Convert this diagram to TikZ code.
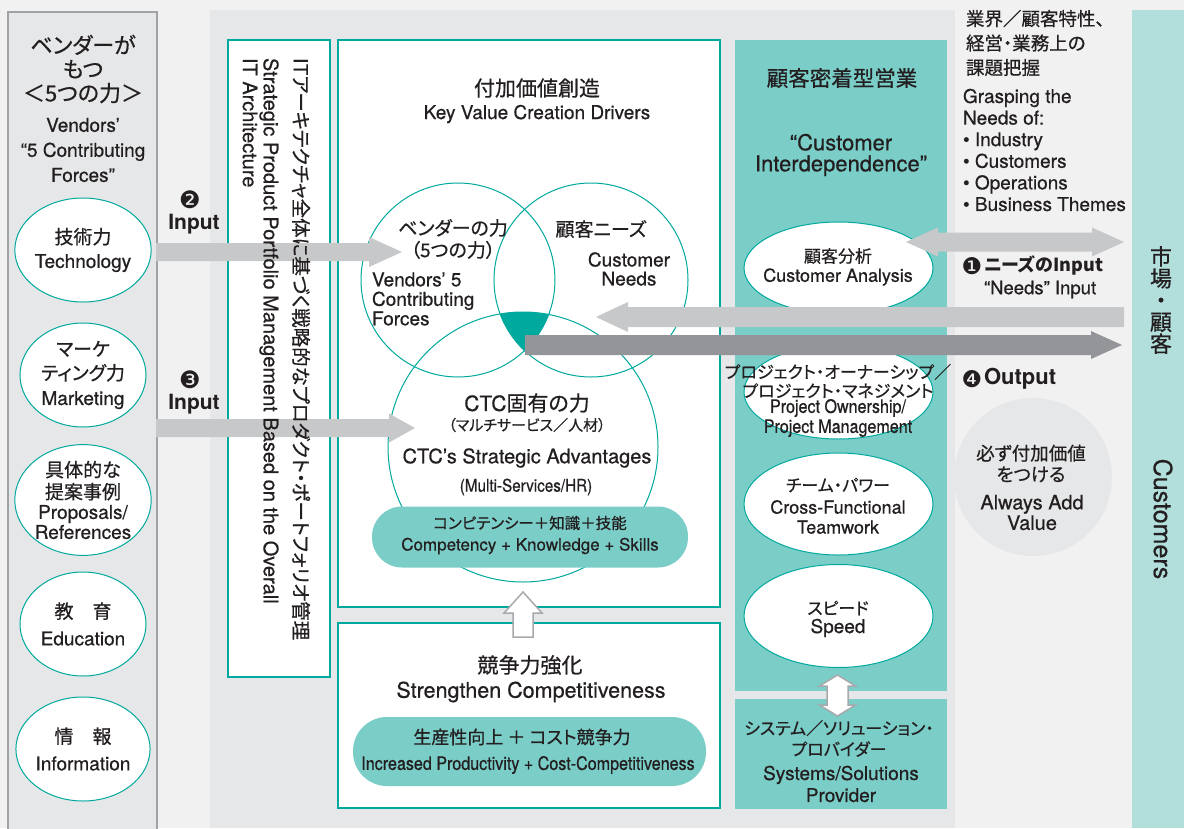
\documentclass[tikz,border=0pt]{standalone}
\usepackage{fontspec}
\setmainfont{TeX Gyre Heros}[UprightFeatures={FakeBold=0.6}]
\newfontfamily\jp{Noto Sans CJK JP}[RawFeature=+palt, UprightFeatures={FakeBold=0.6}]
\newfontfamily\cond{TeX Gyre Heros}[FakeStretch=0.87, UprightFeatures={FakeBold=0.6}]
\newfontfamily\dv{DejaVu Sans}
\usetikzlibrary{shapes.geometric,calc}
\newcommand\fsz[2]{\fontsize{#1}{#2}\selectfont}
\definecolor{bgA}{HTML}{F1F1F2}
\definecolor{bgB}{HTML}{E6E7E8}
\definecolor{tealL}{HTML}{00A99D}
\definecolor{tealF}{HTML}{7BCDC8}
\definecolor{tealP}{HTML}{B2DFDC}
\definecolor{arrL}{HTML}{C7C8CA}
\definecolor{arrD}{HTML}{939598}
\definecolor{txt}{HTML}{231F20}
\definecolor{frameG}{HTML}{A0A2A5}
\definecolor{holG}{HTML}{A7A9AC}
% fat one-headed arrow: #1 start, #2 tip, #3 half band, #4 half head, #5 head length, #6 colour
\newcommand\fatarrow[6]{%
  \fill[#6] let \p1=(#1), \p2=(#2), \n1={\x2>\x1 ? 1 : -1} in
  ({\x1},{\y1+#3pt}) -- ({\x2-(\n1)*#5pt},{\y1+#3pt}) -- ({\x2-(\n1)*#5pt},{\y1+#4pt})
  -- ({\x2},{\y1}) -- ({\x2-(\n1)*#5pt},{\y1-#4pt}) -- ({\x2-(\n1)*#5pt},{\y1-#3pt})
  -- ({\x1},{\y1-#3pt}) -- cycle;}
% fat two-headed arrow (left to right)
\newcommand\fatdarrow[6]{%
  \fill[#6] let \p1=(#1), \p2=(#2) in
  ({\x1},{\y1}) -- ({\x1+#5pt},{\y1+#4pt}) -- ({\x1+#5pt},{\y1+#3pt}) -- ({\x2-#5pt},{\y1+#3pt})
  -- ({\x2-#5pt},{\y1+#4pt}) -- ({\x2},{\y1}) -- ({\x2-#5pt},{\y1-#4pt}) -- ({\x2-#5pt},{\y1-#3pt})
  -- ({\x1+#5pt},{\y1-#3pt}) -- ({\x1+#5pt},{\y1-#4pt}) -- cycle;}
\begin{document}
\begin{tikzpicture}[x=1pt,y=-1pt,
  every node/.style={text=txt, inner sep=0pt, outer sep=0pt},
  wbox/.style={rectangle, draw=tealL, fill=white, line width=1.2pt},
  tbox/.style={rectangle, fill=tealF},
  lell/.style={ellipse, draw=tealL, fill=white, line width=1pt, minimum width=126, minimum height=104, align=center, font=\fsz{19}{24}},
  tell/.style={ellipse, draw=tealL, fill=white, line width=1pt, minimum width=189},
  vcirc/.style={circle, draw=tealL, line width=1pt},
  pill/.style={rectangle, fill=tealF, rounded corners=30pt},
  hol/.style={draw=holG, fill=white, line width=1.5pt, line join=miter}]
\useasboundingbox (0,0) rectangle (1184,828);
% backgrounds
\fill[bgA] (0,0) rectangle (1184,828);
\fill[bgB] (210,10) rectangle (955,828);
\fill[tealP] (1132,10) rectangle (1184,828);
\draw[frameG, line width=2pt, fill=bgB] (8,12) rectangle (157,840);
% boxes
\node[wbox, minimum width=102, minimum height=637] (vbox) at (279,358.5) {};
\node[wbox, minimum width=382, minimum height=567] (topbox) at (529,323.5) {};
\node[wbox, minimum width=382, minimum height=185] (botbox) at (529,715.5) {};
\node[tbox, minimum width=212, minimum height=651] (tcol) at (841,365.5) {};
\node[tbox, minimum width=212, minimum height=110] (tlow) at (841,754) {};
\node[circle, fill=bgB, minimum size=158] (avc) at (1033,477) {};
% left ellipses
\node[lell] (e1) at (83,250) {{\jp 技術力}\\Technology};
\node[lell] (e2) at (83,375) {{\jp マーケ}\\{\jp ティング力}\\[1pt]Marketing};
\node[lell, font=\fsz{19}{20}] (e3) at (83,500) {{\jp 具体的な}\\[2pt]{\jp 提案事例}\\Proposals/\\References};
\node[lell, font=\fsz{19}{27}] (e4) at (83,624) {{\jp 教　育}\\Education};
\node[lell, font=\fsz{19}{27}] (e5) at (83,749) {{\jp 情　報}\\Information};
% venn
\begin{scope}
  \clip (458,280) circle[radius=97pt];
  \clip (591,280) circle[radius=97pt];
  \fill[tealL] (523,447) circle[radius=135pt];
\end{scope}
\node[vcirc, minimum size=194] (cv) at (458,280) {};
\node[vcirc, minimum size=194] (cn) at (591,280) {};
\node[vcirc, minimum size=270] (cc) at (523,447) {};
\node[pill, minimum width=316, minimum height=61] (pc) at (530,537) {};
\node[pill, minimum width=353, minimum height=69, rounded corners=34pt] (pp) at (529.5,751.5) {};
% teal column ellipses
\node[tell, minimum height=92] (ca) at (838.5,268) {};
\node[tell, minimum height=94] (po) at (838.5,392) {};
\node[tell, minimum height=102] (tw) at (838.5,504) {};
\node[tell, minimum height=103] (sp) at (838.5,616) {};
% hollow arrows
\coordinate (upa) at (523,592);
\draw[hol] (upa) -- ++(19,21) -- ++(-9,0) -- ++(0,24) -- ++(-20,0) -- ++(0,-24) -- ++(-9,0) -- cycle;
\coordinate (vda) at (837.5,675);
\draw[hol] (vda) -- ++(18,11) -- ++(-7.5,0) -- ++(0,19) -- ++(7.5,0) -- ++(-18,11) -- ++(-18,-11) -- ++(7.5,0) -- ++(0,-19) -- ++(-7.5,0) -- cycle;
% fat arrows
\coordinate (a2s) at (156,252); \coordinate (a2e) at (402,252);
\fatarrow{a2s}{a2e}{9}{15}{33}{arrL}
\coordinate (a3s) at (156,428); \coordinate (a3e) at (415,428);
\fatarrow{a3s}{a3e}{9}{14.5}{26}{arrL}
\coordinate (nds) at (1124,317); \coordinate (nde) at (596,317);
\fatarrow{nds}{nde}{10}{15}{32}{arrL}
\coordinate (ous) at (525,345); \coordinate (oue) at (1122,345);
\fatarrow{ous}{oue}{10}{14}{31}{arrD}
\coordinate (das) at (906,242); \coordinate (dae) at (1124,242);
\fatdarrow{das}{dae}{9.5}{14.5}{32}{arrL}
% left column texts
\node[font=\jp\fsz{22}{24}, align=center] (ltj) at (83,69) {ベンダーが\\もつ\\＜5つの力＞};
\node[font=\fsz{19}{25}, align=center] (lte) at (83,150) {Vendors’\\“5 Contributing\\Forces”};
\node[font=\dv\fsz{24}{24}] (n2) at (190,200) {❷};
\node[font=\bfseries\fsz{21}{22}] (in2) at (194,224) {Input};
\node[font=\dv\fsz{24}{24}] (n3) at (190,380) {❸};
\node[font=\bfseries\fsz{21}{22}] (in3) at (194,404) {Input};
% vertical box texts
\node[font=\jp\fsz{19.5}{19.5}, rotate=-90, anchor=west] (vj) at (301,58) {ITアーキテクチャ全体に基づく戦略的なプロダクト・ポートフォリオ管理};
\node[font=\fsz{20}{20}, rotate=-90, anchor=west] (ve1) at (269,58) {Strategic Product Portfolio Management Based on the Overall};
\node[font=\fsz{20}{20}, rotate=-90, anchor=west] (ve2) at (250,58) {IT Architecture};
% top box texts
\node[font=\jp\fsz{21}{22}] (tt1) at (537,88) {付加価値創造};
\node[font=\fsz{19}{22}] (tt2) at (537,114) {Key Value Creation Drivers};
\node[font=\jp\fsz{19}{22}, align=center] (vt1) at (453,239) {ベンダーの力\\（5つの力）};
\node[font=\fsz{19}{19.5}, align=left, anchor=west] (vt2) at (372,299) {Vendors’ 5\\Contributing\\Forces};
\node[font=\jp\fsz{19}{22}] (nt1) at (601,229) {顧客ニーズ};
\node[font=\fsz{19}{19}, align=center] (nt2) at (629,269) {Customer\\Needs};
\node[font=\fsz{21}{22}] (c1) at (527,403) {CTC{\jp 固有の力}};
\node[font=\jp\fsz{15}{16}] (c2) at (527,425) {（マルチサービス／人材）};
\node[font=\fsz{20}{22}] (c3) at (527,458) {CTC’s Strategic Advantages};
\node[font=\cond\fsz{17.5}{18}] (c4) at (526,487) {(Multi-Services/HR)};
\node[font=\jp\fsz{15.5}{16}] (pc1) at (530,523) {コンピテンシー＋知識＋技能};
\node[font=\fsz{17}{18}] (pc2) at (530,546) {Competency + Knowledge + Skills};
% bottom box texts
\node[font=\jp\fsz{21}{22}] (b1) at (530,665) {競争力強化};
\node[font=\fsz{21.5}{22}] (b2) at (531,692) {Strengthen Competitiveness};
\node[font=\jp\fsz{18}{20}] (b3) at (522,737) {生産性向上 ＋ コスト競争力};
\node[font=\cond\fsz{18.5}{20}] (b4) at (528,765) {Increased Productivity + Cost-Competitiveness};
% teal column texts
\node[font=\jp\fsz{21.5}{22}] (tc1) at (842,78) {顧客密着型営業};
\node[font=\fsz{22}{21}, align=center] (tc2) at (841,155) {“Customer\\Interdependence”};
\node[font=\jp\fsz{17}{18}] (ca1) at (838,256) {顧客分析};
\node[font=\fsz{18}{20}] (ca2) at (838,277) {Customer Analysis};
\node[font=\jp\fsz{17}{19}, align=center] (po1) at (838,381) {プロジェクト・オーナーシップ／\\プロジェクト・マネジメント};
\node[font=\cond\fsz{18.5}{20}, align=center] (po2) at (838,418) {Project Ownership/\\Project Management};
\node[font=\jp\fsz{17}{18}] (tw1) at (838,485) {チーム・パワー};
\node[font=\fsz{18}{20}, align=center] (tw2) at (838,517) {Cross-Functional\\Teamwork};
\node[font=\jp\fsz{17}{18}] (sp1) at (838,608) {スピード};
\node[font=\fsz{19}{20}] (sp2) at (838,628) {Speed};
\node[font=\jp\fsz{17}{21}, align=center] (tl1) at (839,738.5) {システム／ソリューション・\\プロバイダー};
\node[font=\fsz{19}{22}, align=center] (tl2) at (841,784) {Systems/Solutions\\Provider};
% right texts
\node[font=\jp\fsz{18.5}{24.5}, align=left, anchor=west] (r1) at (966,43) {業界／顧客特性、\\経営・業務上の\\課題把握};
\node[font=\fsz{19}{21.6}, align=left, anchor=west] (r2) at (963,150) {Grasping the\\Needs of:\\• Industry\\• Customers\\• Operations\\• Business Themes};
\node[font=\dv\fsz{23}{23}] (n1) at (972,266) {❶};
\node[font=\jp\bfseries\fsz{18}{20}, anchor=west] (nl1) at (984,265.5) {ニーズのInput};
\node[font=\fsz{18.5}{20}, anchor=west] (nl2) at (984,289.5) {“Needs” Input};
\node[font=\dv\fsz{23}{23}] (n4) at (972,379) {❹};
\node[font=\bfseries\fsz{22}{22}, anchor=west] (ol) at (984,379) {Output};
\node[font=\jp\fsz{18.5}{21}, align=center] (av1) at (1031,463.5) {必ず付加価値\\をつける};
\node[font=\fsz{20}{20.5}, align=center] (av2) at (1032,512.5) {Always Add\\Value};
\node[font=\jp\fsz{22}{21.8}, align=center] (mk) at (1161,300) {市\\場\\・\\顧\\客};
\node[font=\fsz{25}{25}, rotate=-90] (cu) at (1163,519) {Customers};
\end{tikzpicture}
\end{document}
